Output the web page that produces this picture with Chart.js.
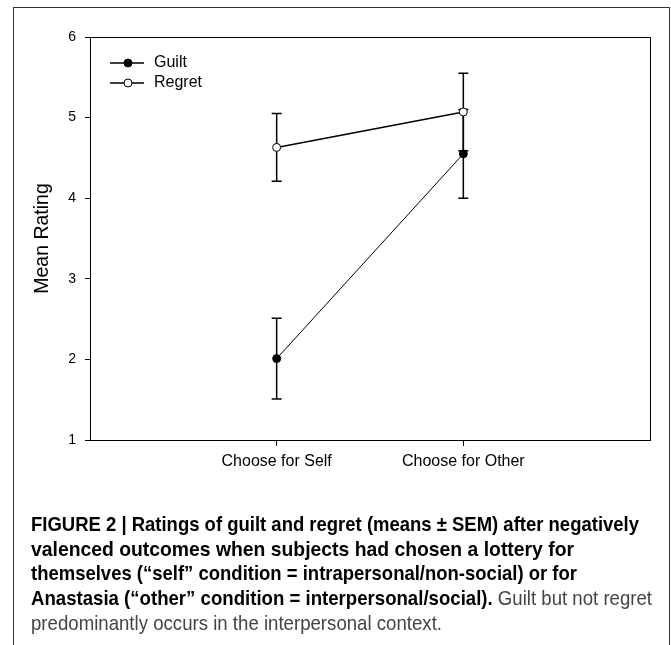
<!DOCTYPE html>
<html>
<head>
<meta charset="utf-8">
<script src="https://cdn.jsdelivr.net/npm/chart.js@4"></script>
<style>
  body { margin: 0; background: #fff; width: 671px; height: 645px; overflow: hidden; position: relative; }
  #frame { position: absolute; left: 13px; top: 7px; width: 655px; height: 700px; border: 1px solid #333; pointer-events: none; }
  #mychart { position: absolute; left: 0; top: 0; }
  #caption {
    position: absolute; left: 31px; top: 512px; width: 640px;
    font-family: "Liberation Sans", Arial, sans-serif;
    font-size: 21px; line-height: 24.7px; color: #111; white-space: nowrap;
  }
  #caption .ln { display: block; transform-origin: 0 50%; width: max-content; }
  #caption b { font-weight: bold; color: #000; }
  #caption .lt { color: #444; }
</style>
</head>
<body>
<canvas id="mychart" width="671" height="500"></canvas>
<div id="frame"></div>
<div id="caption">
  <span class="ln"><b>FIGURE 2 | Ratings of guilt and regret (means ± SEM) after negatively</b></span>
  <span class="ln"><b>valenced outcomes when subjects had chosen a lottery for</b></span>
  <span class="ln"><b>themselves (“self” condition = intrapersonal/non-social) or for</b></span>
  <span class="ln"><b>Anastasia (“other” condition = interpersonal/social).</b> <span class="lt">Guilt but not regret</span></span>
  <span class="ln"><span class="lt">predominantly occurs in the interpersonal context.</span></span>
</div>
<script>
const categories = ["Choose for Self", "Choose for Other"];
const guilt = [2.01, 4.55];
const guiltSem = [0.5, 0.55];
const regret = [4.63, 5.07];
const regretSem = [0.42, 0.48];
const yTicks = [1, 2, 3, 4, 5, 6];

// squeeze caption lines to the narrow face of the original
const lineWidths = [608, 543, 546, 621, 411];
document.querySelectorAll("#caption .ln").forEach((el, i) => {
  const w = el.getBoundingClientRect().width;
  el.style.transform = "scaleX(" + (lineWidths[i] / w) + ")";
});

const toPoints = (vals) => vals.map((v, i) => ({ x: i + 1, y: v }));

// error bars + box + legend drawn inside the plot
const extras = {
  id: "extras",
  beforeDatasetsDraw(chart) {
    const { ctx, scales: { x, y } } = chart;
    ctx.save();
    ctx.strokeStyle = "#000";
    ctx.lineWidth = 1.5;
    const sets = [[regret, regretSem], [guilt, guiltSem]];
    sets.forEach(([vals, sem]) => {
      vals.forEach((v, i) => {
        const px = x.getPixelForValue(i + 1);
        const top = y.getPixelForValue(v + sem[i]);
        const bot = y.getPixelForValue(v - sem[i]);
        ctx.beginPath();
        ctx.moveTo(px, top); ctx.lineTo(px, bot);
        ctx.moveTo(px - 5, top); ctx.lineTo(px + 5, top);
        ctx.moveTo(px - 5, bot); ctx.lineTo(px + 5, bot);
        ctx.stroke();
      });
    });
    ctx.restore();
  },
  afterDraw(chart) {
    const { ctx, chartArea: a } = chart;
    ctx.save();
    ctx.strokeStyle = "#000";
    ctx.lineWidth = 1;
    ctx.strokeRect(a.left + 0.5, a.top + 0.5, a.right - a.left, a.bottom - a.top);
    // legend
    const items = [["Guilt", "#000"], ["Regret", "#fff"]];
    items.forEach(([label, fill], k) => {
      const yy = a.top + 26 + k * 20;
      ctx.beginPath();
      ctx.moveTo(a.left + 20, yy); ctx.lineTo(a.left + 54, yy);
      ctx.lineWidth = 1.3;
      ctx.stroke();
      ctx.beginPath();
      ctx.arc(a.left + 38, yy, 4, 0, Math.PI * 2);
      ctx.fillStyle = fill;
      ctx.fill();
      ctx.lineWidth = 1;
      ctx.stroke();
      ctx.fillStyle = "#000";
      ctx.font = "16px 'Liberation Sans', Arial, sans-serif";
      ctx.textBaseline = "middle";
      ctx.fillText(label, a.left + 64, yy);
    });
    ctx.restore();
  }
};

Chart.defaults.font.family = "'Liberation Sans', Arial, sans-serif";
Chart.defaults.color = "#000";

new Chart(document.getElementById("mychart"), {
  type: "line",
  data: {
    datasets: [
      {
        label: "Regret",
        data: toPoints(regret),
        borderColor: "#000",
        borderWidth: 1.5,
        pointBackgroundColor: "#fff",
        pointBorderColor: "#000",
        pointBorderWidth: 1,
        pointRadius: 4,
      },
      {
        label: "Guilt",
        data: toPoints(guilt),
        borderColor: "#000",
        borderWidth: 1,
        pointBackgroundColor: "#000",
        pointBorderColor: "#000",
        pointRadius: 4,
      },
    ],
  },
  options: {
    responsive: false,
    animation: false,
    layout: { padding: { top: 37, right: 21, left: 0, bottom: 0 } },
    plugins: {
      legend: { display: false },
      tooltip: { enabled: false },
    },
    scales: {
      x: {
        type: "linear",
        min: 0,
        max: 3,
        afterFit(s) { s.height = 60; },
        afterBuildTicks(s) { s.ticks = [0, 1, 2, 3].map((v) => ({ value: v })); },
        ticks: {
          padding: 6,
          font: { size: 16 },
          callback: (v) => categories[v - 1] || "",
        },
        grid: {
          drawOnChartArea: false,
          tickLength: 6,
          color: (c) => (c.tick && (c.tick.value === 1 || c.tick.value === 2) ? "#000" : "rgba(0,0,0,0)"),
        },
        border: { color: "#000" },
      },
      y: {
        min: 1,
        max: 6,
        afterFit(s) { s.width = 90; },
        afterBuildTicks(s) { s.ticks = yTicks.map((v) => ({ value: v })); },
        ticks: { padding: 9, font: { size: 14 } },
        grid: { drawOnChartArea: false, tickLength: 5, color: "#000" },
        border: { color: "#000" },
        title: {
          display: true,
          text: "Mean Rating",
          font: { size: 19.5 },
          padding: { top: 31 },
        },
      },
    },
  },
  plugins: [extras],
});
</script>
</body>
</html>
